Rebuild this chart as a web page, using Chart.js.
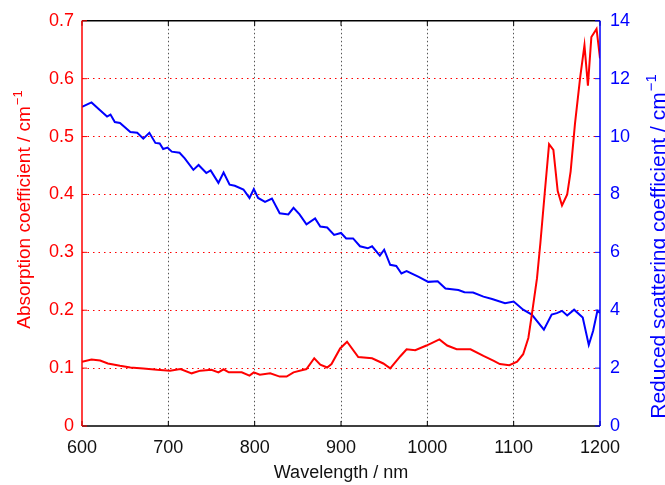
<!DOCTYPE html>
<html>
<head>
<meta charset="utf-8">
<script src="https://cdn.jsdelivr.net/npm/chart.js@4"></script>
<style>
html,body{margin:0;padding:0;background:#fff;}
</style>
</head>
<body>
<canvas id="chart" width="665" height="485"></canvas>
<script>
// DATA
const redWl = [600,611,621,630,644,656,671,687,702,714,727,737,750,758,764,770,785,794,799,806,818,829,837,845,860,869,876,884,889,899,907,920,936,949,957,969,976,986,999,1014,1023,1034,1050,1065,1077,1084,1095,1104,1111,1117,1121,1127,1131,1136,1141,1146,1151,1156,1162,1166,1171,1177,1182,1186,1190,1196,1200];
const redVal = [0.111,0.115,0.113,0.108,0.104,0.101,0.0995,0.097,0.0956,0.0984,0.091,0.0956,0.097,0.0927,0.098,0.0927,0.0927,0.087,0.0927,0.0887,0.091,0.0853,0.0853,0.0927,0.0984,0.117,0.106,0.101,0.107,0.134,0.1456,0.119,0.117,0.108,0.0995,0.121,0.1326,0.131,0.139,0.1496,0.139,0.1326,0.1326,0.121,0.1126,0.107,0.105,0.111,0.124,0.152,0.192,0.255,0.317,0.403,0.487,0.477,0.406,0.381,0.40,0.44,0.522,0.602,0.658,0.588,0.672,0.686,0.635];

const blueWl = [600,611,619,629,633,638,644,656,664,671,678,685,690,694,699,704,713,719,729,735,744,749,758,764,771,777,787,794,799,804,812,820,829,839,845,852,860,870,876,884,892,900,906,914,922,931,936,945,950,957,964,970,976,990,1001,1012,1021,1036,1043,1053,1065,1075,1090,1100,1111,1121,1135,1144,1150,1156,1162,1170,1180,1187,1192,1197,1200];
const blueVal = [11.03,11.18,10.96,10.69,10.76,10.5,10.47,10.16,10.13,9.93,10.13,9.78,9.76,9.57,9.62,9.48,9.44,9.25,8.85,9.02,8.74,8.83,8.40,8.76,8.34,8.30,8.17,7.88,8.19,7.88,7.74,7.86,7.35,7.31,7.54,7.31,6.97,7.17,6.89,6.86,6.60,6.67,6.48,6.48,6.21,6.14,6.21,5.89,6.09,5.57,5.53,5.27,5.35,5.15,4.98,5.0,4.75,4.70,4.62,4.61,4.47,4.39,4.24,4.30,4.02,3.85,3.33,3.85,3.90,3.98,3.82,4.02,3.75,2.80,3.28,3.98,3.90];

const xTicks = [600,700,800,900,1000,1100,1200];
const leftTicks = [0,0.1,0.2,0.3,0.4,0.5,0.6,0.7];
const rightTicks = [0,2,4,6,8,10,12,14];

const xTitle = "Wavelength / nm";
const leftTitle = "Absorption coefficient / cm";
const rightTitle = "Reduced scattering coefficient / cm";
const unitSup = "\u22121";

const FONT = "'Liberation Sans', Arial, sans-serif";
const RED = "#ff0000";
const BLUE = "#0000ff";

function pts(xs, ys){
  return xs.map((x,i)=>({x:x, y:ys[i]}));
}

function setTicks(list){
  return function(scale){
    scale.ticks = list.map(v=>({value:v}));
  };
}

// inner grid only, ends are the frame
function innerColor(col){
  return function(c){
    let t = c.scale.ticks;
    if(c.index===0 || c.index===t.length-1) return "transparent";
    return col;
  };
}

// rotated title with raised "-1"
function drawTitle(ctx, text, size, cx, cy, color){
  ctx.save();
  ctx.translate(cx, cy);
  ctx.rotate(-Math.PI/2);
  ctx.font = size+"px "+FONT;
  let w1 = ctx.measureText(text).width;
  ctx.font = Math.round(size*0.7)+"px "+FONT;
  let w2 = ctx.measureText(unitSup).width;
  let x0 = -(w1+w2)/2;
  ctx.fillStyle = color;
  ctx.textBaseline = "alphabetic";
  ctx.textAlign = "left";
  ctx.font = size+"px "+FONT;
  ctx.fillText(text, x0, 0);
  ctx.font = Math.round(size*0.7)+"px "+FONT;
  ctx.fillText(unitSup, x0+w1+1, -size*0.42);
  ctx.restore();
}

// FRAME, INWARD TICKS, TITLES
const framePlugin = {
  id:"frame",
  afterDraw(chart){
    const ctx = chart.ctx;
    const a = chart.chartArea;
    const sx = chart.scales.x, sy = chart.scales.y, sy1 = chart.scales.y1;

    ctx.save();
    ctx.lineWidth = 1.5;
    ctx.strokeStyle = "#000";
    ctx.beginPath();
    ctx.moveTo(a.left, a.top); ctx.lineTo(a.right, a.top);
    ctx.moveTo(a.left, a.bottom); ctx.lineTo(a.right, a.bottom);
    ctx.stroke();

    ctx.lineWidth = 1;
    sx.ticks.forEach(t=>{
      let px = sx.getPixelForValue(t.value);
      ctx.beginPath();
      ctx.moveTo(px, a.bottom); ctx.lineTo(px, a.bottom-5);
      ctx.moveTo(px, a.top); ctx.lineTo(px, a.top+5);
      ctx.stroke();
    });

    ctx.strokeStyle = RED;
    sy.ticks.forEach(t=>{
      let py = sy.getPixelForValue(t.value);
      ctx.beginPath();
      ctx.moveTo(a.left, py); ctx.lineTo(a.left+5, py);
      ctx.stroke();
    });
    ctx.lineWidth = 1.5;
    ctx.beginPath();
    ctx.moveTo(a.left, a.top); ctx.lineTo(a.left, a.bottom);
    ctx.stroke();

    ctx.strokeStyle = BLUE;
    ctx.lineWidth = 1;
    sy1.ticks.forEach(t=>{
      let py = sy1.getPixelForValue(t.value);
      ctx.beginPath();
      ctx.moveTo(a.right, py); ctx.lineTo(a.right-5, py);
      ctx.stroke();
    });
    ctx.lineWidth = 1.5;
    ctx.beginPath();
    ctx.moveTo(a.right, a.top); ctx.lineTo(a.right, a.bottom);
    ctx.stroke();

    // x title
    ctx.fillStyle = "#111";
    ctx.font = "18px "+FONT;
    ctx.textAlign = "center";
    ctx.textBaseline = "alphabetic";
    ctx.fillText(xTitle, (a.left+a.right)/2, 478);
    ctx.restore();

    drawTitle(ctx, leftTitle, 19, 30, 210, RED);
    drawTitle(ctx, rightTitle, 21, 665, 247, BLUE);
  }
};

// CHART
new Chart(document.getElementById("chart"), {
  type:"line",
  data:{
    datasets:[
      {label:"Absorption", data:pts(redWl, redVal), yAxisID:"y",
       borderColor:RED, borderWidth:2, pointRadius:0, tension:0, fill:false},
      {label:"Scattering", data:pts(blueWl, blueVal), yAxisID:"y1",
       borderColor:BLUE, borderWidth:2, pointRadius:0, tension:0, fill:false}
    ]
  },
  options:{
    responsive:false,
    animation:false,
    devicePixelRatio:1,
    layout:{padding:{top:16, left:0, right:0, bottom:0}},
    plugins:{legend:{display:false}, tooltip:{enabled:false}},
    scales:{
      x:{
        type:"linear", min:600, max:1200,
        afterBuildTicks:setTicks(xTicks),
        afterFit(s){ s.height = 59; },
        ticks:{color:"#111", font:{family:FONT, size:18}, padding:11, maxRotation:0, autoSkip:false,
          callback:v=> String(v)},
        grid:{color:innerColor("#555"), lineWidth:1, drawTicks:false},
        border:{display:false, dash:[1.5,2.5]}
      },
      y:{
        position:"left", min:0, max:0.7,
        afterBuildTicks:setTicks(leftTicks),
        afterFit(s){ s.width = 82; },
        ticks:{color:RED, font:{family:FONT, size:18}, padding:8,
          callback:v=> v===0 ? "0" : v.toFixed(1)},
        grid:{color:innerColor(RED), lineWidth:1, drawTicks:false},
        border:{display:false, dash:[1.5,4]}
      },
      y1:{
        position:"right", min:0, max:14,
        afterBuildTicks:setTicks(rightTicks),
        afterFit(s){ s.width = 65; },
        ticks:{color:BLUE, font:{family:FONT, size:18}, padding:10},
        grid:{drawOnChartArea:false, drawTicks:false},
        border:{display:false}
      }
    }
  },
  plugins:[framePlugin]
});
</script>
</body>
</html>
